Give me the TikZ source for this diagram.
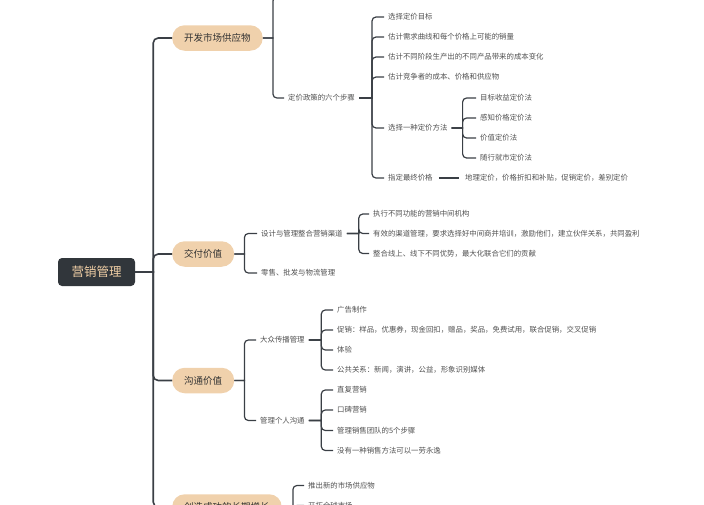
\documentclass[tikz,border=0pt]{standalone}
\usepackage{fontspec}
\setmainfont{Noto Sans CJK SC}
\definecolor{rootbg}{HTML}{31363B}
\definecolor{rootfg}{HTML}{F1CFA6}
\definecolor{peach}{HTML}{F0D1AC}
\definecolor{linegray}{HTML}{3A3F45}
\definecolor{leafgray}{HTML}{505050}

\begin{document}
\begin{tikzpicture}[x=1pt, y=-1pt,
    root/.style={fill=rootbg, text=rootfg, rounded corners=4pt, minimum width=77pt, minimum height=28pt, font=\fontsize{12.5}{14}\selectfont},
    topic/.style={fill=peach, text=black!80, rounded corners=12.5pt, minimum height=25.5pt, inner xsep=12pt, anchor=west, font=\fontsize{9.5}{11}\selectfont},
    leaf/.style={anchor=west, text=leafgray, inner xsep=4pt, inner ysep=2pt, font=\fontsize{7.4}{9}\selectfont},
    trunk/.style={draw=linegray, line width=1.6pt},
    twig/.style={draw=linegray, line width=1.2pt}]
    \useasboundingbox (0,0) rectangle (704,504);
    \clip (0,0) rectangle (704,504);

    \node (root) [root] at (96.5,272) {营销管理};
    \node (t1) [topic] at (172,38) {开发市场供应物};
    \node (t2) [topic] at (172,254) {交付价值};
    \node (t3) [topic] at (172,380.5) {沟通价值};
    \node (t4) [topic] at (172,507) {创造成功的长期增长};

    \node (a1) [leaf] at (284,-3) {消费者心理与定价};
    \node (a2) [leaf] at (284,98) {定价政策的六个步骤};
    \node (b1) [leaf] at (384,17) {选择定价目标};
    \node (b2) [leaf] at (384,37) {估计需求曲线和每个价格上可能的销量};
    \node (b3) [leaf] at (384,57) {估计不同阶段生产出的不同产品带来的成本变化};
    \node (b4) [leaf] at (384,77) {估计竞争者的成本、价格和供应物};
    \node (b5) [leaf] at (384,128) {选择一种定价方法};
    \node (b6) [leaf] at (384,178) {指定最终价格};
    \node (c1) [leaf] at (476,98) {目标收益定价法};
    \node (c2) [leaf] at (476,118) {感知价格定价法};
    \node (c3) [leaf] at (476,138) {价值定价法};
    \node (c4) [leaf] at (476,158) {随行就市定价法};
    \node (d1) [leaf] at (461,178) {地理定价，价格折扣和补贴，促销定价，差别定价};

    \node (e1) [leaf] at (257,233.5) {设计与管理整合营销渠道};
    \node (e2) [leaf] at (257,273) {零售、批发与物流管理};
    \node (f1) [leaf] at (369,214) {执行不同功能的营销中间机构};
    \node (f2) [leaf] at (369,233.5) {有效的渠道管理，要求选择好中间商并培训，激励他们，建立伙伴关系，共同盈利};
    \node (f3) [leaf] at (369,253.5) {整合线上、线下不同优势，最大化联合它们的贡献};

    \node (g1) [leaf] at (256,340) {大众传播管理};
    \node (g2) [leaf] at (256,420.5) {管理个人沟通};
    \node (h1) [leaf] at (333,310) {广告制作};
    \node (h2) [leaf] at (333,330) {促销：样品，优惠券，现金回扣，赠品，奖品，免费试用，联合促销，交叉促销};
    \node (h3) [leaf] at (333,350) {体验};
    \node (h4) [leaf] at (333,370) {公共关系：新闻，演讲，公益，形象识别媒体};
    \node (i1) [leaf] at (333,390) {直复营销};
    \node (i2) [leaf] at (333,410) {口碑营销};
    \node (i3) [leaf] at (333,430.5) {管理销售团队的5个步骤};
    \node (i4) [leaf] at (333,450.5) {没有一种销售方法可以一劳永逸};

    \node (j1) [leaf] at (304,485.5) {推出新的市场供应物};
    \node (j2) [leaf] at (304,505.5) {开拓全球市场};

    \foreach \t in {t1,t2,t3,t4}
        \draw[trunk] (root.east) -- ++(18,0) [rounded corners=5pt] |- (\t.west);
    \foreach \c in {a1,a2}
        \draw[twig] (t1.east) -- ++(10,0) [rounded corners=4pt] |- (\c.west);
    \foreach \c in {b1,b2,b3,b4,b5,b6}
        \draw[twig] (a2.east) -- ++(13,0) [rounded corners=4pt] |- (\c.west);
    \foreach \c in {c1,c2,c3,c4}
        \draw[twig] (b5.east) -- ++(11,0) [rounded corners=4pt] |- (\c.west);
    \draw[twig] (b6.east) ++(2,0) -- ([xshift=-2pt]d1.west);
    \foreach \c in {e1,e2}
        \draw[twig] (t2.east) -- ++(10,0) [rounded corners=4pt] |- (\c.west);
    \foreach \c in {f1,f2,f3}
        \draw[twig] (e1.east) -- ++(12,0) [rounded corners=4pt] |- (\c.west);
    \foreach \c in {g1,g2}
        \draw[twig] (t3.east) -- ++(10,0) [rounded corners=4pt] |- (\c.west);
    \foreach \c in {h1,h2,h3,h4}
        \draw[twig] (g1.east) -- ++(12.5,0) [rounded corners=4pt] |- (\c.west);
    \foreach \c in {i1,i2,i3,i4}
        \draw[twig] (g2.east) -- ++(12.5,0) [rounded corners=4pt] |- (\c.west);
    \foreach \c in {j1,j2}
        \draw[twig] (t4.east) -- ++(11,0) [rounded corners=4pt] |- (\c.west);
\end{tikzpicture}
\end{document}
